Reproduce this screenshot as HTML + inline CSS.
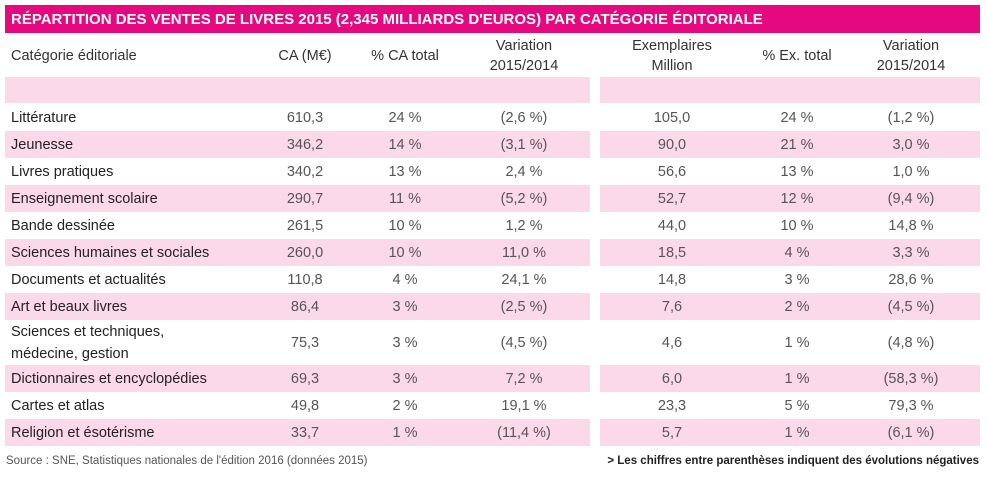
<!DOCTYPE html>
<html><head><meta charset="utf-8"><style>
body{margin:0;width:987px;height:477px;background:#fff;font-family:"Liberation Sans",sans-serif;position:relative;overflow:hidden}
.a{position:absolute}
.t{position:absolute;white-space:nowrap;font-size:14.5px;color:#555;transform:translate(-50%,-50%)}
.c{position:absolute;white-space:nowrap;font-size:14.5px;color:#222;left:11px;transform:translateY(-50%)}
.h{position:absolute;font-size:14.5px;color:#333;text-align:center;transform:translate(-50%,-50%);line-height:20px;white-space:nowrap}
.pk{background:#fcd9e9}
</style></head><body>
<div class="a" style="left:5px;top:5px;width:975px;height:28px;background:#e5087f;color:#fff;font-weight:bold;font-size:15px;line-height:29px;padding-left:6px;box-sizing:border-box">RÉPARTITION DES VENTES DE LIVRES 2015 (2,345 MILLIARDS D'EUROS) PAR CATÉGORIE ÉDITORIALE</div>
<div class="c" style="top:56px;color:#333">Catégorie éditoriale</div>
<div class="h" style="left:305px;top:56px">CA (M€)</div>
<div class="h" style="left:405px;top:56px">% CA total</div>
<div class="h" style="left:524px;top:56px">Variation<br>2015/2014</div>
<div class="h" style="left:672px;top:56px">Exemplaires<br>Million</div>
<div class="h" style="left:797px;top:56px">% Ex. total</div>
<div class="h" style="left:911px;top:56px">Variation<br>2015/2014</div>
<div class="a pk" style="left:5px;top:77px;width:585px;height:26px"></div>
<div class="a pk" style="left:600px;top:77px;width:380px;height:26px"></div>
<div id="rows"></div>
<div class="a" style="left:6px;top:455px;font-size:11.5px;color:#555">Source : SNE, Statistiques nationales de l'édition 2016 (données 2015)</div>
<div class="a" style="right:8px;top:455px;font-size:11.5px;color:#222;font-weight:bold">&gt; Les chiffres entre parenthèses indiquent des évolutions négatives</div>
<script>
const categories=["Littérature","Jeunesse","Livres pratiques","Enseignement scolaire","Bande dessinée","Sciences humaines et sociales","Documents et actualités","Art et beaux livres","Sciences et techniques,<br>médecine, gestion","Dictionnaires et encyclopédies","Cartes et atlas","Religion et ésotérisme"];
const ca=["610,3","346,2","340,2","290,7","261,5","260,0","110,8","86,4","75,3","69,3","49,8","33,7"];
const pctCa=["24 %","14 %","13 %","11 %","10 %","10 %","4 %","3 %","3 %","3 %","2 %","1 %"];
const varCa=["(2,6 %)","(3,1 %)","2,4 %","(5,2 %)","1,2 %","11,0 %","24,1 %","(2,5 %)","(4,5 %)","7,2 %","19,1 %","(11,4 %)"];
const ex=["105,0","90,0","56,6","52,7","44,0","18,5","14,8","7,6","4,6","6,0","23,3","5,7"];
const pctEx=["24 %","21 %","13 %","12 %","10 %","4 %","3 %","2 %","1 %","1 %","5 %","1 %"];
const varEx=["(1,2 %)","3,0 %","1,0 %","(9,4 %)","14,8 %","3,3 %","28,6 %","(4,5 %)","(4,8 %)","(58,3 %)","79,3 %","(6,1 %)"];
const root=document.getElementById('rows');
const cols=[[ca,305],[pctCa,405],[varCa,524],[ex,672],[pctEx,797],[varEx,911]];
let y=104;
categories.forEach((c,i)=>{
  const h=i===8?45:27;
  const cy=y+h/2;
  if(i%2===1){
    [[5,585],[600,380]].forEach(([l,w])=>{
      const b=document.createElement('div');b.className='a pk';
      
      
      b.style.cssText=`left:${l}px;top:${y}px;width:${w}px;height:${h}px`;root.appendChild(b);
    });
  }
  const d=document.createElement('div');d.className='c';
  
  
  d.style.top=cy+'px';d.style.lineHeight='22px';d.innerHTML=c;root.appendChild(d);
  cols.forEach(([arr,x])=>{
    const e=document.createElement('div');e.className='t';
    
    
    e.style.left=x+'px';e.style.top=cy+'px';e.textContent=arr[i];root.appendChild(e);
  });
  y+=h;
});
</script>
</body></html>
